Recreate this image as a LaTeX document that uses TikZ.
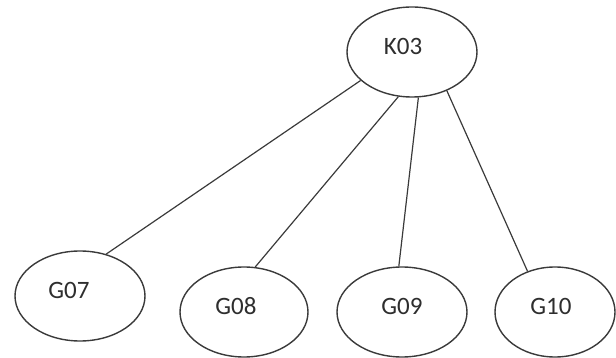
\documentclass[tikz,border=0pt]{standalone}
\usepackage{fontspec}
\setmainfont{Carlito}
\usetikzlibrary{shapes.geometric}
\definecolor{edgegrey}{HTML}{3A3A3A}
\definecolor{textgrey}{HTML}{2E2E2E}
\tikzset{
  oval/.style={ellipse, draw=edgegrey, line width=1.4pt, fill=white, inner sep=0pt,
    minimum width=130pt, minimum height=90pt, text=textgrey, font=\fontsize{25}{25}\selectfont,
    text height=16pt, text depth=11pt},
  link/.style={draw=edgegrey, line width=1.2pt}
}
\begin{document}
\begin{tikzpicture}[x=1pt,y=-1pt]
\useasboundingbox (0,0) rectangle (616,358);
\clip (0,0) rectangle (616,358);
\node[oval] (K03) at (412,52) {K03\kern18pt};
\node[oval] (G07) at (80,296) {G07\kern22pt};
\node[oval, minimum width=128pt] (G08) at (244,312) {G08\kern16pt};
\node[oval] (G09) at (402,312) {G09};
\node[oval, minimum width=120pt] (G10) at (555,312) {G10\kern8pt};
\draw[link] (K03.209) -- (G07.58);
\draw[link] (K03.253) -- (G08.76);
\draw[link] (K03.278) -- (G09.94);
\draw[link] (K03.312) -- (G10.124);
\end{tikzpicture}
\end{document}
